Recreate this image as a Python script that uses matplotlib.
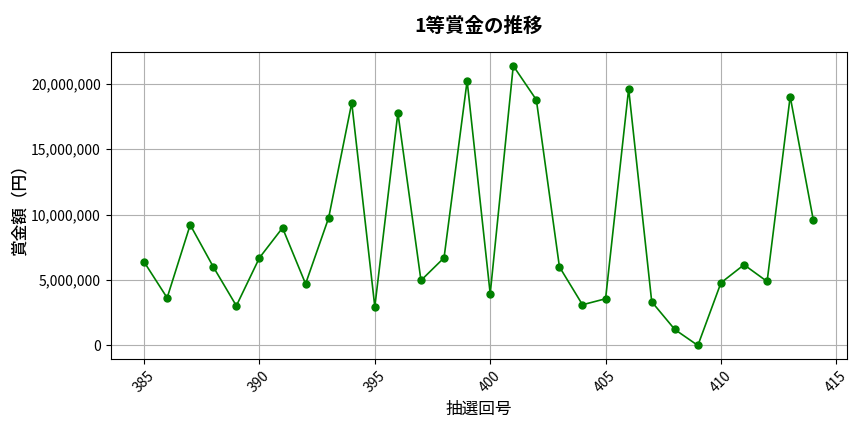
import matplotlib

matplotlib.use("Agg")
import matplotlib.pyplot as plt
from matplotlib.ticker import FuncFormatter

plt.rcParams["font.family"] = ["Noto Sans CJK JP", "DejaVu Sans"]

# Draw numbers and first-prize amounts (yen)
draws = list(range(385, 415))
prize = [
    6390000, 3640000, 9220000, 6010000, 3030000,
    6700000, 8990000, 4710000, 9760000, 18550000,
    2960000, 17780000, 4970000, 6700000, 20230000,
    3950000, 21380000, 18780000, 6010000, 3110000,
    3570000, 19620000, 3340000, 1220000, 0,
    4790000, 6170000, 4890000, 19030000, 9610000,
]


def main():
    fig, ax = plt.subplots(figsize=(8.64, 4.32), dpi=100)
    ax.plot(draws, prize, color="green", marker="o", markersize=5, linewidth=1.2)
    ax.set_title("1等賞金の推移", fontsize=14, fontweight="bold", pad=14)
    ax.set_xlabel("抽選回号", fontsize=12, labelpad=4)
    ax.set_ylabel("賞金額（円）", fontsize=12, fontweight="medium", labelpad=2)
    ax.yaxis.set_major_formatter(FuncFormatter(lambda v, _: f"{int(v):,}"))
    ax.tick_params(axis="x", labelrotation=45)
    ax.grid(True, color="#b0b0b0", linewidth=0.8)
    fig.subplots_adjust(left=0.128, right=0.98, top=0.88, bottom=0.168)
    fig.savefig("out.png", dpi=100)


if __name__ == "__main__":
    main()
